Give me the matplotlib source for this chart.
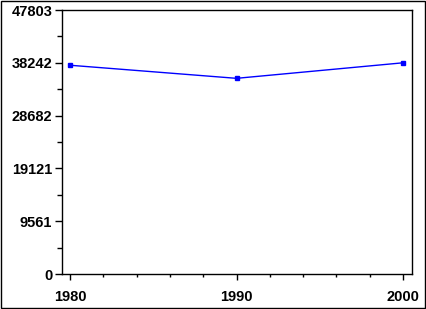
import matplotlib
matplotlib.use("Agg")
import matplotlib.pyplot as plt
from matplotlib.ticker import MultipleLocator, FixedLocator
from matplotlib.patches import Rectangle

years = [1980, 1990, 2000]
values = [37800, 35430, 38242]
ytick_labels = ["0", "9561", "19121", "28682", "38242", "47803"]
ymax = 47803

fig = plt.figure(figsize=(4.27, 3.09), dpi=100)
ax = fig.add_axes([62/427, 35/309, 350/427, 264/309])
ax.plot(years, values, color="#0000ff", lw=1.0, marker="s", ms=2.5,
        mec="#0000ff", mfc="#0000ff")
ax.set_xlim(1979.52, 2000.54)
ax.set_ylim(0, ymax)
yt = [ymax * i / 5 for i in range(6)]
ax.yaxis.set_major_locator(FixedLocator(yt))
ax.set_yticklabels(ytick_labels)
ax.yaxis.set_minor_locator(FixedLocator([ymax * (i + 0.5) / 5 for i in range(5)]))
ax.set_xticks(years)
ax.set_xticklabels([str(y) for y in years])
ax.xaxis.set_minor_locator(MultipleLocator(2))
for s in ax.spines.values():
    s.set_linewidth(1.0)
    s.set_color("black")
ax.tick_params(axis="y", which="major", length=5, width=1, pad=2,
               labelsize=10.5, direction="out")
ax.tick_params(axis="y", which="minor", length=3.5, width=1, direction="out")
ax.tick_params(axis="x", which="major", length=4.5, width=1, pad=7,
               labelsize=10.5, direction="out")
ax.tick_params(axis="x", which="minor", length=2.5, width=1, direction="out")
for lab in ax.get_xticklabels() + ax.get_yticklabels():
    lab.set_fontfamily("Liberation Sans")
    lab.set_fontweight("bold")
fig.patches.append(Rectangle((0.5/427, 1.5/309), 425/427, 307/309,
                             transform=fig.transFigure, fill=False,
                             edgecolor="black", lw=1.0))
fig.savefig("out.png", dpi=100)
